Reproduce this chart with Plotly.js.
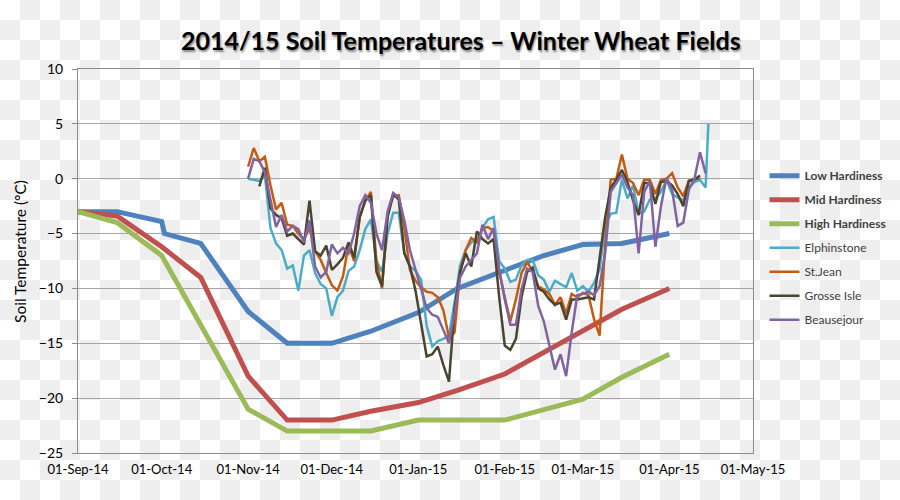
<!DOCTYPE html>
<html>
<head>
<meta charset="utf-8">
<script src="https://cdn.plot.ly/plotly-3.0.1.min.js"></script>
<style>
  html, body { margin: 0; padding: 0; }
  body {
    width: 900px; height: 500px; overflow: hidden;
    background: repeating-conic-gradient(#eeeeee 0 25%, #ffffff 0 50%) 0 0 / 40px 40px;
  }
  #chart { width: 900px; height: 500px; }
</style>
</head>
<body>
<div id="chart"></div>
<script>
// ---- Hardiness curves ----
const lowDates = ['2014-09-01','2014-09-15','2014-10-01','2014-10-02','2014-10-15','2014-11-01','2014-11-15','2014-12-01','2014-12-15','2015-01-01','2015-01-15','2015-02-01','2015-02-15','2015-03-01','2015-03-08','2015-03-15','2015-04-01'];
const lowValues = [-3,-3,-3.9,-5,-5.9,-12.1,-15,-15,-13.9,-12.2,-10.0,-8.3,-7.0,-6.0,-6.0,-5.9,-5.0];

const midDates = ['2014-09-01','2014-09-15','2014-10-01','2014-10-15','2014-11-01','2014-11-15','2014-12-01','2014-12-15','2015-01-01','2015-01-15','2015-02-01','2015-02-15','2015-03-01','2015-03-15','2015-04-01'];
const midValues = [-3,-3.4,-6.2,-9,-18,-22,-22,-21.2,-20.4,-19.3,-17.8,-15.8,-13.8,-11.9,-10];

const highDates = ['2014-09-01','2014-09-15','2014-10-01','2014-11-01','2014-11-15','2014-12-15','2015-01-01','2015-02-01','2015-03-01','2015-03-15','2015-04-01'];
const highValues = [-3,-4,-7,-21,-23,-23,-22,-22,-20.1,-18.1,-16];

// ---- Field soil temperatures ----
const siteDates = [
'2014-11-01','2014-11-03','2014-11-05','2014-11-07','2014-11-09','2014-11-11','2014-11-13','2014-11-15','2014-11-17','2014-11-19','2014-11-21','2014-11-23','2014-11-25','2014-11-27','2014-11-29',
'2014-12-01','2014-12-03','2014-12-05','2014-12-07','2014-12-09','2014-12-11','2014-12-13','2014-12-15','2014-12-17','2014-12-19','2014-12-21','2014-12-23','2014-12-25','2014-12-27','2014-12-29','2014-12-31',
'2015-01-02','2015-01-04','2015-01-06','2015-01-08','2015-01-10','2015-01-12','2015-01-14','2015-01-16','2015-01-18','2015-01-20','2015-01-22','2015-01-24','2015-01-26','2015-01-28','2015-01-30',
'2015-02-01','2015-02-03','2015-02-05','2015-02-07','2015-02-09','2015-02-11','2015-02-13','2015-02-15','2015-02-17','2015-02-19','2015-02-21','2015-02-23','2015-02-25','2015-02-27',
'2015-03-01','2015-03-03','2015-03-05','2015-03-07','2015-03-09','2015-03-11','2015-03-13','2015-03-15','2015-03-17','2015-03-19','2015-03-21','2015-03-23','2015-03-25','2015-03-27','2015-03-29','2015-03-31',
'2015-04-02','2015-04-04','2015-04-06','2015-04-08','2015-04-10','2015-04-12','2015-04-14','2015-04-15'];

const elphinstone = [0.0,-0.1,-0.2,0.3,-4.5,-5.9,-6.5,-8.2,-7.9,-10.2,-7.0,-6.5,-8.6,-9.6,-10.0,
-12.5,-10.8,-10.2,-8.4,-8.0,-6.5,-4.6,-3.7,-7.5,-8.5,-5.0,-3.1,-3.1,-6.8,-8.0,-8.4,
-9.2,-13.4,-15.3,-14.8,-14.6,-14.3,-11.3,-7.9,-6.5,-5.8,-5.6,-4.5,-3.7,-3.5,-7.5,
-8.2,-9.4,-9.2,-7.9,-7.4,-7.4,-8.8,-9.2,-10.3,-9.3,-9.6,-9.9,-8.6,-10.2,
-9.8,-10.3,-9.5,-8.3,-4.2,-3.2,-3.1,-0.1,-1.8,-0.6,-3.2,-3.0,-1.9,-1.8,-1.2,-0.1,
-1.4,-1.7,-2.0,-0.8,-0.3,-0.1,-0.8,5.0];

const stJean = [1.1,2.8,1.6,2.0,-0.6,-2.8,-2.2,-4.2,-4.3,-5.0,-5.5,-4.5,-6.6,-7.4,-8.6,
-9.7,-10.2,-8.9,-6.0,-7.5,-3.5,-2.0,-1.2,-7.5,-10.0,-3.2,-1.6,-1.5,-4.5,-8.3,-9.3,
-9.9,-10.3,-10.4,-10.8,-12.0,-14.5,-14.0,-8.5,-6.5,-5.4,-5.8,-4.5,-4.4,-4.8,-8.5,
-10.8,-13.0,-11.0,-8.6,-7.6,-8.4,-9.8,-10.1,-10.5,-11.5,-10.8,-12.3,-10.5,-10.8,
-10.4,-10.6,-12.8,-14.3,-6.0,-0.1,0.0,2.2,0.0,-0.4,-1.5,-0.1,-0.1,-1.4,-0.1,0.0,
0.5,-0.8,-1.6,-0.2,0.0,0.0,null,null];

const grosseIsle = [null,null,-0.7,1.0,-2.7,-3.3,-3.6,-5.2,-5.0,-5.5,-6.0,-2.0,-6.6,-7.0,-6.1,
-8.3,-7.8,-7.2,-5.8,-7.2,-3.5,-2.0,-1.5,-8.5,-9.8,-3.5,-1.4,-1.9,-6.8,-8.0,-10.2,
-13.2,-16.2,-16.0,-15.3,-17.0,-18.5,-11.8,-8.5,-6.8,-8.0,-4.8,-5.5,-5.9,-5.5,-10.8,
-15.2,-15.6,-14.6,-10.8,-8.5,-8.1,-10.0,-10.3,-11.0,-11.5,-11.3,-12.85,-11.0,-11.0,
-10.9,-10.8,-11.0,-7.1,-3.5,-0.8,-0.1,0.8,-0.3,-2.0,-3.3,-0.4,-0.4,-2.3,-0.3,-0.2,
-0.6,-1.4,-2.5,-0.2,-0.1,0.3,null,null];

const beausejour = [0.0,1.8,1.6,0.6,-1.9,-4.4,-3.3,-4.8,-4.3,-4.6,-5.8,-3.8,-8.0,-9.0,-8.5,
-6.0,-6.8,-6.3,-6.8,-5.0,-2.5,-1.5,-2.2,-5.0,-6.5,-3.0,-1.3,-1.7,-3.8,-6.5,-8.3,
-10.0,-11.8,-12.4,-12.6,-13.8,-15.0,-12.3,-9.0,-8.0,-7.4,-6.8,-4.2,-5.5,-4.5,-8.2,
-11.0,-13.3,-13.3,-10.1,-8.2,-8.5,-11.6,-13.0,-15.2,-17.4,-16.0,-18.0,-14.0,-10.6,
-10.5,-10.3,-10.6,-9.8,-6.8,-1.2,-0.4,0.4,-0.8,-1.5,-6.8,-1.2,-0.2,-6.2,-2.5,0.1,
-1.0,-4.3,-4.0,-1.0,0.0,2.4,0.5,null];

const xTickStart = '2014-09-01';
const xRange = ['2014-09-01','2015-05-01'];

function line(name, x, y, color, width, group) {
  return { type: 'scatter', mode: 'lines', name: name, x: x, y: y,
    line: { color: color, width: width }, connectgaps: false, legendgroup: group, hoverinfo: 'skip' };
}

const traces = [
  line('<b>Low Hardiness</b>', lowDates, lowValues, '#4F81BD', 5, 'g1'),
  line('<b>Mid Hardiness</b>', midDates, midValues, '#C0504D', 5, 'g2'),
  line('<b>High Hardiness</b>', highDates, highValues, '#9BBB59', 5, 'g3'),
  line('Elphinstone', siteDates, elphinstone, '#4BACC6', 2.5, 'g4'),
  line('St.Jean', siteDates, stJean, '#C55A11', 2.5, 'g5'),
  line('Grosse Isle', siteDates, grosseIsle, '#4A4530', 2.5, 'g6'),
  line('Beausejour', siteDates, beausejour, '#8064A2', 2.5, 'g7')
];

const layout = {
  width: 900, height: 500,
  paper_bgcolor: 'rgba(0,0,0,0)', plot_bgcolor: 'rgba(0,0,0,0)',
  margin: { l: 78, r: 147, t: 69, b: 47, autoexpand: false },
  font: { family: 'Lato, "Open Sans", sans-serif', color: '#000' },
  title: {
    text: '<b>2014/15 Soil Temperatures – Winter Wheat Fields</b>',
    font: { family: 'Lato, sans-serif', size: 25, color: '#000', shadow: '1px 2px 2px rgba(0,0,0,0.45)' },
    x: 0.512, xref: 'container', xanchor: 'center',
    y: 0.918, yref: 'container', yanchor: 'middle'
  },
  xaxis: {
    type: 'date', range: xRange, tick0: xTickStart, dtick: 'M1', tickformat: '%d-%b-%y',
    showgrid: false, showline: true, linecolor: '#8c8c8c', linewidth: 1, mirror: true,
    ticks: '', ticklabelstandoff: 4,
    tickfont: { family: '"Liberation Sans Narrow", Lato, sans-serif', size: 13, color: '#000' },
    zeroline: false
  },
  yaxis: {
    range: [-25, 10], dtick: 5, tick0: 0,
    showgrid: true, gridcolor: '#a6a6a6', gridwidth: 1,
    showline: true, linecolor: '#8c8c8c', linewidth: 1, mirror: true,
    ticks: 'outside', ticklen: 5, tickcolor: '#8c8c8c', ticklabelstandoff: 6,
    tickfont: { family: 'Lato, sans-serif', size: 14, color: '#000' },
    zeroline: false
  },
  annotations: [{
    text: 'Soil Temperature (°C)', textangle: -90, showarrow: false,
    xref: 'paper', yref: 'paper', x: -0.086, y: 0.526, xanchor: 'center', yanchor: 'middle',
    font: { family: 'Lato, sans-serif', size: 15.5, color: '#000' }
  }],
  showlegend: true,
  legend: {
    x: 1.017, xanchor: 'left', y: 0.76, yanchor: 'top',
    traceorder: 'grouped', tracegroupgap: 5,
    font: { family: 'Lato, sans-serif', size: 12, color: '#404040' },
    bgcolor: 'rgba(0,0,0,0)', itemwidth: 30
  }
};

Plotly.newPlot('chart', traces, layout, { displayModeBar: false, staticPlot: true });
</script>
</body>
</html>
